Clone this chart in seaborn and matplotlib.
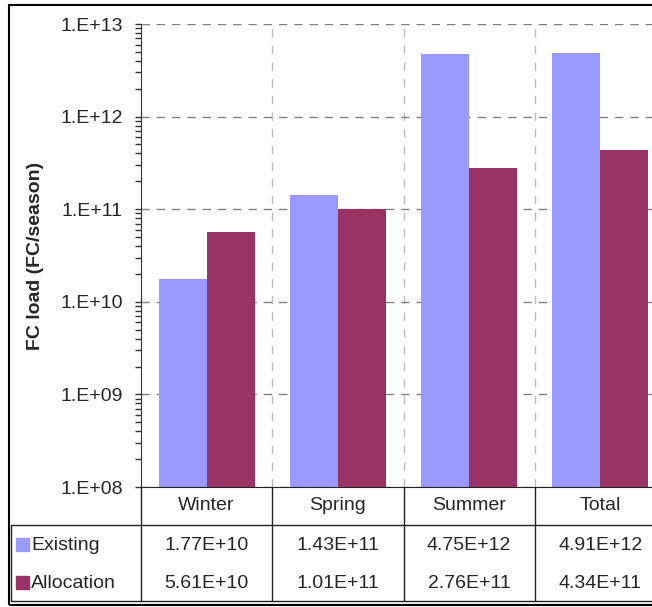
import numpy as np
import pandas as pd
import seaborn as sns
import matplotlib.pyplot as plt
from matplotlib.lines import Line2D
from matplotlib.patches import Rectangle
from matplotlib.ticker import LogLocator, FuncFormatter

# Dados
seasons = ["Winter", "Spring", "Summer", "Total"]
existing = [1.77e10, 1.43e11, 4.75e12, 4.91e12]
allocation = [5.61e10, 1.01e11, 2.76e11, 4.34e11]
series_names = ["Existing", "Allocation"]
colors = ["#9999FF", "#993366"]

df = pd.DataFrame({
    "season": seasons * 2,
    "load": existing + allocation,
    "series": [series_names[0]] * 4 + [series_names[1]] * 4,
})

W, H = 652, 607
FS = 14
sns.set_style("white")
plt.rcParams["font.family"] = ["Liberation Sans", "DejaVu Sans"]

fig = plt.figure(figsize=(W / 100, H / 100), dpi=100)

# eixo principal (o gráfico original está cortado à direita)
left, right, top, bottom = 141, 666, 24, 487
ax = fig.add_axes([left / W, 1 - bottom / H, (right - left) / W, (bottom - top) / H])
ax.set_yscale("log")
sns.barplot(data=df, x="season", y="load", hue="series", palette=colors,
            width=0.73, gap=0, ax=ax, legend=False, saturation=1, linewidth=0)
ax.set_ylim(1e8, 1e13)
ax.set_xlim(-0.5, 3.5)

ax.yaxis.set_major_locator(LogLocator(base=10, numticks=10))
ax.yaxis.set_minor_locator(LogLocator(base=10, subs=np.arange(2, 10), numticks=20))
ax.yaxis.set_major_formatter(FuncFormatter(lambda v, p: "1.E+%02d" % round(np.log10(v))))
ax.tick_params(axis="y", which="both", direction="out", length=4, width=1,
               color="#333333", labelsize=FS, left=True, pad=9)
ax.tick_params(axis="x", which="both", bottom=False, labelbottom=False)
ax.set_xlabel("")
ax.set_ylabel("FC load (FC/season)", fontsize=FS, fontweight="bold", labelpad=12)

ax.set_xticks([0.5, 1.5, 2.5], minor=True)
ax.grid(axis="y", which="major", color="#808080", linestyle=(0, (6, 5)), linewidth=1)
ax.grid(axis="x", which="minor", color="#BBBBBB", linestyle=(0, (6, 6)), linewidth=1)
ax.set_axisbelow(True)
for s in ["top", "right"]:
    ax.spines[s].set_visible(False)
ax.spines["left"].set_color("#333333")
ax.spines["bottom"].set_color("#222222")

# tabela de dados por baixo do gráfico
def fx(x):
    return x / W

def fy(y):
    return 1 - y / H

def line(x0, y0, x1, y1, lw=1.0):
    fig.add_artist(Line2D([fx(x0), fx(x1)], [fy(y0), fy(y1)], color="#222222", lw=lw))

colw = (right - left) / 4
rows_y = [487, 525, 563, 601]
line(11, 525, W, 525)
line(11, 601, W, 601)
line(11, 525, 11, 601)
for i in range(4):
    x = left + i * colw
    line(x, 487, x, 601)

for i, name in enumerate(seasons):
    cx = left + (i + 0.5) * colw
    fig.text(fx(cx), fy(504), name, ha="center", va="center_baseline", fontsize=FS)

for r, (name, vals) in enumerate(zip(series_names, [existing, allocation])):
    cy = (rows_y[r + 1] + rows_y[r + 2]) / 2
    fig.add_artist(Rectangle((fx(16), fy(cy + 7)), 13 / W, 13 / H,
                             transform=fig.transFigure, color=colors[r]))
    fig.text(fx(31), fy(cy), name, ha="left", va="center_baseline", fontsize=FS)
    for i, v in enumerate(vals):
        cx = left + (i + 0.5) * colw
        fig.text(fx(cx), fy(cy), f"{v:.2E}", ha="center", va="center_baseline", fontsize=FS)

# moldura exterior
fig.add_artist(Rectangle((fx(9), fy(605)), (W + 10 - 9) / W, 600 / H,
                         transform=fig.transFigure, fill=False, ec="black", lw=1.5))

fig.savefig("out.png", dpi=100)
